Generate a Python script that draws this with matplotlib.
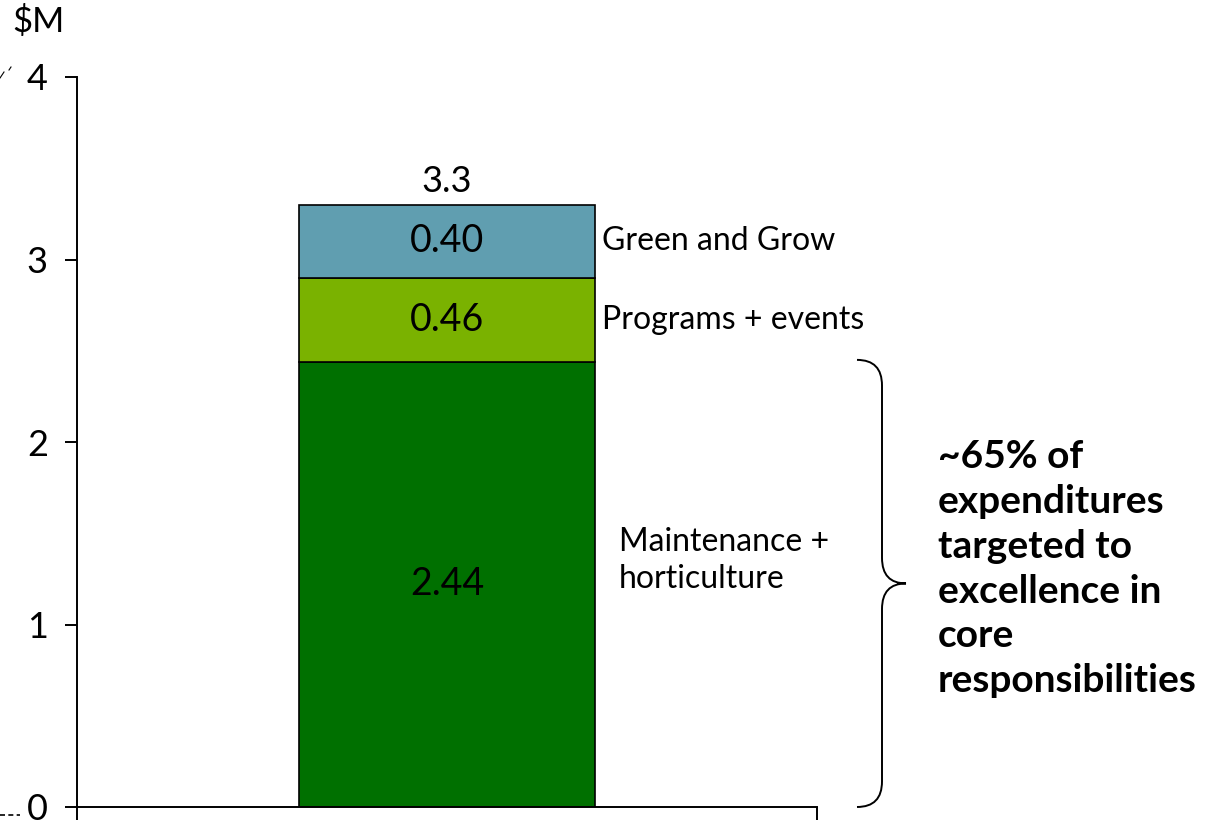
import matplotlib
matplotlib.use("Agg")
import matplotlib.pyplot as plt
from matplotlib.path import Path
from matplotlib.patches import PathPatch
import matplotlib.transforms as mtransforms
from matplotlib.lines import Line2D

plt.rcParams['font.family'] = ['Lato', 'DejaVu Sans']

# ---- data ----
segments = ["Maintenance +\nhorticulture", "Programs + events", "Green and Grow"]
values = [2.44, 0.46, 0.40]
value_labels = ["2.44", "0.46", "0.40"]
total_label = "3.3"
colors = ["#007000", "#7AB200", "#609EB0"]
yticks = [0, 1, 2, 3, 4]
unit_label = "$M"
note = "~65% of\nexpenditures\ntargeted to\nexcellence in\ncore\nresponsibilities"

W, H = 1222, 836
fig = plt.figure(figsize=(W / 100, H / 100), dpi=100)
ax = fig.add_axes([77 / W, (H - 807) / H, 740 / W, (807 - 77) / H])

ax.set_xlim(-1, 1)
ax.set_ylim(0, 4)

bottom = 0.0
for name, v, vl, c in zip(segments, values, value_labels, colors):
    ax.bar(0, v, width=0.8, bottom=bottom, color=c, edgecolor="black",
           linewidth=1.2, zorder=2)
    ax.text(0, bottom + v / 2, vl, ha="center", va="center", fontsize=27,
            color="black")
    bottom += v

total = bottom
ax.text(0, total + 0.035, total_label, ha="center", va="bottom", fontsize=26)

# segment names to the right of bar
ax.text(0.465, values[0] / 2 + 0.13, segments[0], ha="left", va="center",
        fontsize=23, linespacing=1.3)
ax.text(0.42, values[0] + values[1] / 2, segments[1], ha="left", va="center",
        fontsize=23)
ax.text(0.42, values[0] + values[1] + values[2] / 2, segments[2], ha="left",
        va="center", fontsize=23)

# axes styling
for s in ["top", "right"]:
    ax.spines[s].set_visible(False)
for s in ["left", "bottom"]:
    ax.spines[s].set_linewidth(1.4)
ax.set_yticks(yticks)
ax.set_yticklabels([str(t) for t in yticks], fontsize=26)
ax.tick_params(axis="y", direction="out", length=9, width=1.4, pad=12)
ax.set_xticks([-1, 1])
ax.set_xticklabels(["", ""])
ax.tick_params(axis="x", direction="out", length=9, width=1.4)

fig.text(12 / W, 1 - 22 / H, unit_label, ha="left", va="center", fontsize=25)

# brace (x in figure pixels, y in data)
trans = mtransforms.blended_transform_factory(
    mtransforms.Affine2D().scale(1 / W, 1) + fig.transFigure, ax.transData)
top = values[0] + 0.01
bot = 0.0
mid = (top + bot) / 2
x0, x1, x2 = 857, 882, 906
dy = 0.14
verts = [
    (x0, top), (x1, top), (x1, top - dy),
    (x1, mid + dy),
    (x1, mid), (x2, mid),
    (x1, mid), (x1, mid - dy),
    (x1, bot + dy),
    (x1, bot), (x0, bot),
]
codes = [Path.MOVETO, Path.CURVE3, Path.CURVE3,
         Path.LINETO,
         Path.CURVE3, Path.CURVE3,
         Path.CURVE3, Path.CURVE3,
         Path.LINETO,
         Path.CURVE3, Path.CURVE3]
brace = PathPatch(Path(verts, codes), transform=trans, fill=False,
                  edgecolor="black", linewidth=1.4, clip_on=False)
fig.add_artist(brace)

fig.text(938 / W, 1 - 439 / H, note, ha="left", va="top", fontsize=28,
         fontweight="bold", linespacing=1.34)

# small artifacts at the left edge
fig.add_artist(Line2D([0 / W, 20 / W], [1 - 815 / H, 1 - 815 / H],
                      color="black", linewidth=1.2, linestyle=(0, (3, 2))))
fig.add_artist(Line2D([0 / W, 4 / W], [1 - 78 / H, 1 - 72 / H],
                      color="black", linewidth=0.8))
fig.add_artist(Line2D([9 / W, 11 / W], [1 - 70 / H, 1 - 67 / H],
                      color="black", linewidth=0.8))

fig.savefig("out.png", dpi=100)
